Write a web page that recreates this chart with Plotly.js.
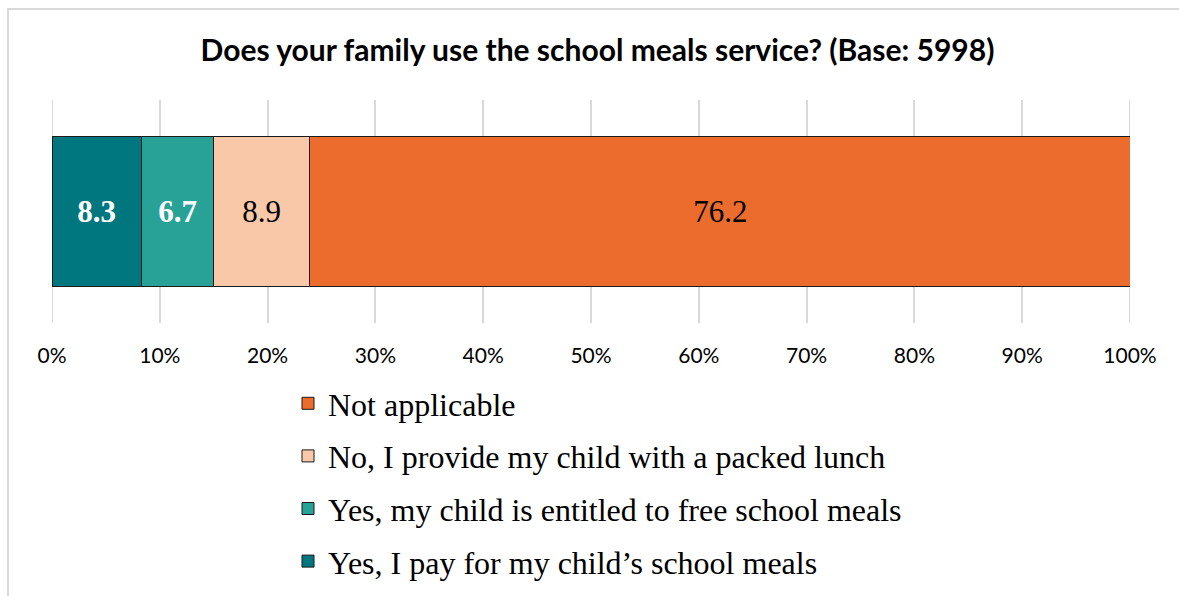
<!DOCTYPE html>
<html>
<head>
<meta charset="utf-8">
<script src="https://cdn.plot.ly/plotly-3.0.1.min.js"></script>
<style>html,body{margin:0;padding:0;background:#fff;}#chart{width:1179px;height:596px;}</style>
</head>
<body>
<div id="chart"></div>
<script>
var category = ["Family"];
var seriesNames = [
  "Yes, I pay for my child\u2019s school meals",
  "Yes, my child is entitled to free school meals",
  "No, I provide my child with a packed lunch",
  "Not applicable"
];
var payValues = [8.3];
var freeValues = [6.7];
var packedValues = [8.9];
var naValues = [76.2];
var tickValues = [0, 10, 20, 30, 40, 50, 60, 70, 80, 90, 100];
var tickLabels = ["0%", "10%", "20%", "30%", "40%", "50%", "60%", "70%", "80%", "90%", "100%"];

var seriesValues = [payValues, freeValues, packedValues, naValues];
var colors = ["#00777E", "#28A296", "#F8C8A9", "#EC6C2D"];
var textColors = ["#ffffff", "#ffffff", "#000000", "#000000"];
var textWeights = ["bold", "bold", "normal", "normal"];

var traces = seriesValues.map(function (vals, i) {
  return {
    type: "bar",
    orientation: "h",
    name: seriesNames[i],
    legendgroup: "g" + i,
    legendrank: 10 - i,
    x: vals,
    y: category,
    marker: { color: colors[i], line: { color: "#1a1a1a", width: 1 } },
    text: vals.map(function (v) { return v.toFixed(1); }),
    textposition: "inside",
    insidetextanchor: "middle",
    textangle: 0,
    textfont: { family: "Liberation Serif, Times New Roman, serif", size: 31, color: textColors[i], weight: textWeights[i] },
    hoverinfo: "x+name"
  };
});

// edge gridlines (Plotly drops gridlines lying exactly on the plot edges)
var edgeGrid = [tickValues[0], tickValues[tickValues.length - 1]].map(function (v) {
  return {
    type: "line", xref: "x", yref: "paper",
    x0: v, x1: v, y0: 0, y1: 1,
    line: { color: "#d9d9d9", width: 2 },
    layer: "below"
  };
});

var layout = {
  width: 1179,
  height: 596,
  paper_bgcolor: "#ffffff",
  plot_bgcolor: "#ffffff",
  barmode: "stack",
  bargap: 0.33,
  margin: { l: 52, r: 49, t: 100, b: 273, autoexpand: false },
  title: {
    text: "<b>Does your family use the school meals service? (Base: 5998)</b>",
    font: { family: "Lato, Carlito, Calibri, sans-serif", size: 30, color: "#000000" },
    x: 597.5 / 1179, xanchor: "center", xref: "container",
    y: 1 - 50 / 596, yanchor: "middle", yref: "container"
  },
  xaxis: {
    range: [0, 100],
    tickvals: tickValues,
    ticktext: tickLabels,
    showgrid: true,
    gridcolor: "#d9d9d9",
    gridwidth: 2,
    zeroline: false,
    showline: false,
    ticks: "outside",
    ticklen: 14,
    tickcolor: "rgba(0,0,0,0)",
    tickfont: { family: "Lato, Carlito, Calibri, sans-serif", size: 21, color: "#000000" },
    fixedrange: true
  },
  yaxis: {
    showticklabels: false,
    showgrid: false,
    zeroline: false,
    showline: false,
    fixedrange: true
  },
  showlegend: true,
  legend: {
    orientation: "v",
    traceorder: "grouped",
    tracegroupgap: 8,
    x: (288 - 52) / 1078,
    xanchor: "left",
    y: (323 - 376) / 223,
    yanchor: "top",
    font: { family: "Liberation Serif, Times New Roman, serif", size: 32, color: "#000000" },
    bgcolor: "rgba(0,0,0,0)"
  },
  shapes: [{
    type: "rect",
    xref: "paper", yref: "paper",
    x0: (8 - 52) / 1078, x1: (1190 - 52) / 1078,
    y0: (323 - 620) / 223, y1: (323 - 9) / 223,
    line: { color: "#d9d9d9", width: 2 },
    fillcolor: "rgba(0,0,0,0)",
    layer: "below"
  }].concat(edgeGrid)
};

Plotly.newPlot("chart", traces, layout, { displayModeBar: false, staticPlot: true });
</script>
</body>
</html>
